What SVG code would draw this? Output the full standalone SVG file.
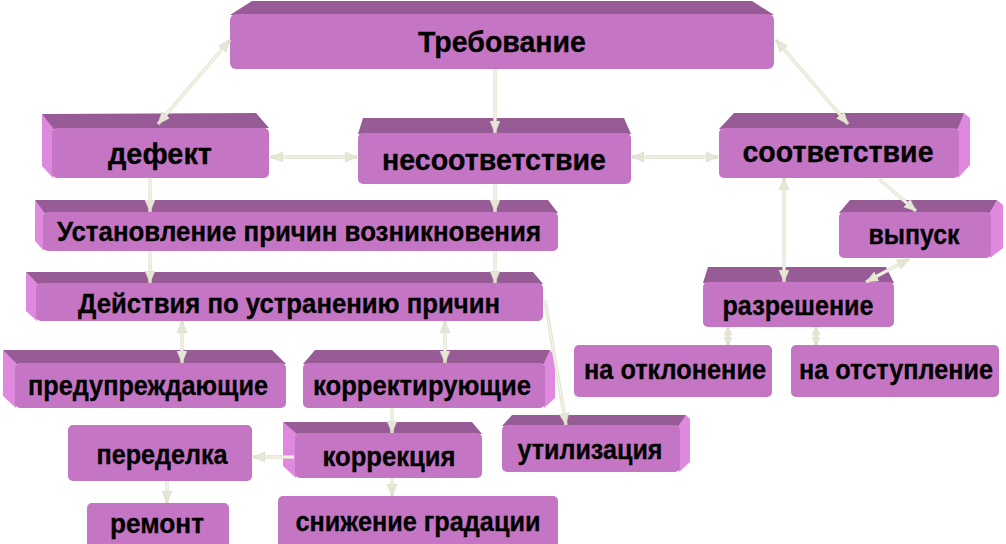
<svg xmlns="http://www.w3.org/2000/svg" width="1006" height="544" viewBox="0 0 1006 544">
<defs>
<marker id="ah" markerUnits="userSpaceOnUse" markerWidth="13" markerHeight="11" refX="12" refY="5" orient="auto-start-reverse">
<path d="M0,0 L12,5 L0,10 z" fill="#E6E6D4" stroke="#D9D9C4" stroke-width="0.6"/>
</marker>
<marker id="as" markerUnits="userSpaceOnUse" markerWidth="9" markerHeight="9" refX="8" refY="4" orient="auto-start-reverse">
<path d="M0,0 L8,4 L0,8 z" fill="#E6E6D4" stroke="#D9D9C4" stroke-width="0.6"/>
</marker>
</defs>
<style>
.f{fill:#C475C3}
.t{fill:#975C96}
.s{fill:#DE88DE}
.c{fill:none;stroke:#E2E2CE;stroke-width:3.4;marker-end:url(#ah)}
.b{marker-start:url(#ah)}
.cs{fill:none;stroke:#E2E2CE;stroke-width:3.4;marker-start:url(#as);marker-end:url(#as)}
.i{fill:none;stroke:#FAFAF5;stroke-width:1.1}
text{font-family:"Liberation Sans",Arial,sans-serif;font-weight:bold;fill:#000;stroke:#000;stroke-width:0.3;text-anchor:middle;font-size:27px}
.L{font-size:30px}
</style>
<rect width="1006" height="544" fill="#fff"/>
<g id="n-trebovanie">
<polygon class="t" points="230,15 252,1 752,1 774,15"/>
<rect class="f" x="230" y="14" width="544" height="55" rx="6"/>
<text class="L" x="502" y="52" textLength="168" lengthAdjust="spacingAndGlyphs">Требование</text>
</g>
<g id="n-defekt">
<polygon class="t" points="52,129 42,114 256,113 269,128"/>
<polygon class="s" points="42,114 53,128 53,178 42,166"/>
<rect class="f" x="52" y="128" width="217" height="50" rx="5"/>
<text class="L" x="160" y="164" textLength="104" lengthAdjust="spacingAndGlyphs">дефект</text>
</g>
<g id="n-nesootvetstvie">
<polygon class="t" points="358,134 363,118 624,118 631,134"/>
<rect class="f" x="358" y="133" width="273" height="51" rx="5"/>
<text class="L" x="494" y="170" textLength="224" lengthAdjust="spacingAndGlyphs">несоответствие</text>
</g>
<g id="n-sootvetstvie">
<polygon class="t" points="719,129 734,113 964,113 959,129"/>
<polygon class="s" points="958,128 964,113 970,118 970,165 958,178"/>
<rect class="f" x="719" y="128" width="240" height="50" rx="5"/>
<text class="L" x="838" y="162" textLength="191" lengthAdjust="spacingAndGlyphs">соответствие</text>
</g>
<g id="n-ustanovlenie">
<polygon class="t" points="43,213 35,200 548,200 558,213"/>
<polygon class="s" points="35,200 44,212 44,251 35,241"/>
<rect class="f" x="43" y="212" width="515" height="39" rx="5"/>
<text x="299" y="241" textLength="484" lengthAdjust="spacingAndGlyphs">Установление причин возникновения</text>
</g>
<g id="n-deystviya">
<polygon class="t" points="36,284 26,272 533,272 543,284"/>
<polygon class="s" points="26,272 37,283 37,321 26,311"/>
<rect class="f" x="36" y="283" width="507" height="38" rx="5"/>
<text x="289" y="313" textLength="422" lengthAdjust="spacingAndGlyphs">Действия по устранению причин</text>
</g>
<g id="n-preduprezhdayushchie">
<polygon class="t" points="15,364 3,350 272,350 286,364"/>
<polygon class="s" points="3,350 16,363 16,408 3,396"/>
<rect class="f" x="15" y="363" width="271" height="45" rx="5"/>
<text x="148" y="395" textLength="240" lengthAdjust="spacingAndGlyphs">предупреждающие</text>
</g>
<g id="n-korrektiruyushchie">
<polygon class="t" points="303,364 315,350 550,350 545,364"/>
<polygon class="s" points="544,363 550,350 555,356 555,398 544,408"/>
<rect class="f" x="303" y="363" width="242" height="45" rx="5"/>
<text x="422" y="395" textLength="218" lengthAdjust="spacingAndGlyphs">корректирующие</text>
</g>
<g id="n-utilizatsiya">
<polygon class="t" points="502,426 512,415 686,415 680,426"/>
<polygon class="s" points="679,425 686,415 690,419 690,462 679,472"/>
<rect class="f" x="502" y="425" width="178" height="47" rx="5"/>
<text x="590" y="459" textLength="145" lengthAdjust="spacingAndGlyphs">утилизация</text>
</g>
<g id="n-peredelka">
<rect class="f" x="68" y="425" width="184" height="56" rx="5"/>
<text x="162" y="464" textLength="131" lengthAdjust="spacingAndGlyphs">переделка</text>
</g>
<g id="n-korrektsiya">
<polygon class="t" points="295,434 283,422 472,422 482,434"/>
<polygon class="s" points="283,422 296,433 296,478 283,466"/>
<rect class="f" x="295" y="433" width="187" height="45" rx="5"/>
<text x="389" y="466" textLength="133" lengthAdjust="spacingAndGlyphs">коррекция</text>
</g>
<g id="n-remont">
<rect class="f" x="87" y="503" width="142" height="45" rx="5"/>
<text x="157" y="533" textLength="94" lengthAdjust="spacingAndGlyphs">ремонт</text>
</g>
<g id="n-snizhenie">
<rect class="f" x="278" y="496" width="280" height="52" rx="5"/>
<text x="418" y="531" textLength="245" lengthAdjust="spacingAndGlyphs">снижение градации</text>
</g>
<g id="n-vypusk">
<polygon class="t" points="839,213 850,200 997,200 991,213"/>
<polygon class="s" points="990,212 997,200 1003,205 1003,248 990,258"/>
<rect class="f" x="839" y="212" width="152" height="46" rx="5"/>
<text x="914" y="244" textLength="91" lengthAdjust="spacingAndGlyphs">выпуск</text>
</g>
<g id="n-razreshenie">
<polygon class="t" points="703,283 708,267 886,267 894,283"/>
<rect class="f" x="703" y="282" width="191" height="45" rx="5"/>
<text x="798" y="315" textLength="151" lengthAdjust="spacingAndGlyphs">разрешение</text>
</g>
<g id="n-na-otklonenie">
<rect class="f" x="574" y="345" width="198" height="52" rx="5"/>
<text x="675" y="379" textLength="182" lengthAdjust="spacingAndGlyphs">на отклонение</text>
</g>
<g id="n-na-otstuplenie">
<rect class="f" x="791" y="345" width="208" height="52" rx="5"/>
<text x="896" y="379" textLength="194" lengthAdjust="spacingAndGlyphs">на отступление</text>
</g>
<g id="connectors">
<path class="c b" d="M158,124 L230,40"/>
<path class="c" d="M495,69 L495,133"/>
<path class="c b" d="M848,124 L776,40"/>
<path class="c b" d="M271,157 L357,157"/>
<path class="c b" d="M632,157 L718,157"/>
<path class="c" d="M150,178 L150,212"/>
<path class="c" d="M495,184 L495,212"/>
<path class="c" d="M150,251 L150,283"/>
<path class="c" d="M495,251 L495,283"/>
<path class="c b" d="M182,321 L182,363"/>
<path class="c b" d="M445,321 L445,363"/>
<path class="c" d="M545,300 L566,425"/>
<path class="c" d="M392,408 L392,433"/>
<path class="c" d="M294,457 L253,457"/>
<path class="c" d="M392,478 L392,496"/>
<path class="c" d="M167,481 L167,503"/>
<path class="c b" d="M784,178 L784,282"/>
<path class="c" d="M879,179 L916,211"/>
<path class="c b" d="M909,259 L866,282"/>
<path class="cs" d="M728,327 L728,345"/>
<path class="cs" d="M816,327 L816,345"/>
<path class="i" d="M165.8,114.9 L222.2,49.1 M495,69 L495,121 M840.2,114.9 L783.8,49.1 M283,157 L345,157 M644,157 L706,157 M150,178 L150,200 M495,184 L495,200 M150,251 L150,271 M495,251 L495,271 M182,333 L182,351 M445,333 L445,351 M545,300 L564,413 M392,408 L392,421 M294,457 L265,457 M392,478 L392,484 M167,481 L167,491 M784,190 L784,270 M879,179 L906.9,203.2 M898.4,264.7 L876.6,276.3"/>
</g>
</svg>
